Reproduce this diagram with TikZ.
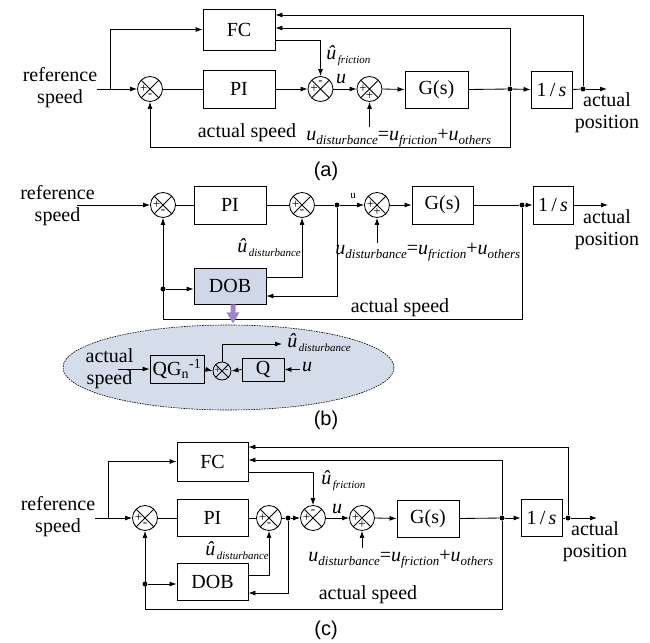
\documentclass[tikz,border=0pt]{standalone}
\usepackage{fontspec}
\setmainfont{Liberation Serif}
\newfontfamily\arialf{Liberation Sans}
\usetikzlibrary{arrows.meta,calc,shapes.geometric}
\definecolor{dobfill}{HTML}{CFD7E8}
\definecolor{ellfill}{HTML}{D5DCEA}
\definecolor{purp}{HTML}{9E86C6}
\newcommand\sbs[2][13]{\raisebox{-0.4ex}{\fontsize{#1}{#1}\selectfont\itshape #2}}
\newcommand\udeq{\textit{u}\sbs{disturbance}=\textit{u}\sbs{friction}+\textit{u}\sbs{others}}
\newcommand\uhat[1]{\textit{û}\kern1.5pt\raisebox{-0.45ex}{\fontsize{11}{11}\selectfont\itshape #1}}
\newcommand\sgL[2]{\node[sgnf] (#1L) at ([xshift=-6.5pt]#1.center) {#2};}
\newcommand\sgR[2]{\node[sgnf] (#1R) at ([xshift=6.5pt]#1.center) {#2};}
\newcommand\sgT[2]{\node[sgnf] (#1T) at ([yshift=6.5pt]#1.center) {#2};}
\newcommand\sgB[2]{\node[sgnf] (#1B) at ([yshift=-6.5pt]#1.center) {#2};}
\begin{document}
\begin{tikzpicture}[x=1pt,y=-1pt,line width=0.85pt,
  >={Latex[length=7pt,width=5pt]},
  txt/.style={font=\fontsize{20}{22}\selectfont,align=center,inner sep=0pt},
  box/.style={draw,font=\fontsize{20}{22}\selectfont,inner sep=0pt},
  sumj/.style={circle,draw,minimum size=25pt,inner sep=0pt,
    path picture={\draw[line width=0.8pt] (path picture bounding box.north west)--(path picture bounding box.south east)
      (path picture bounding box.north east)--(path picture bounding box.south west);}},
  sgnf/.style={font=\fontsize{13}{13}\selectfont,inner sep=0pt},
  dot/.style={circle,fill,inner sep=0pt,minimum size=5pt},
  capt/.style={font=\arialf\fontsize{20}{22}\selectfont,inner sep=0pt}]
\useasboundingbox (0,0) rectangle (650,642);
\fill[white] (0,0) rectangle (650,642);

% ================= (a) =================
\node[txt] (refA) at (60,88) {reference\\speed};
\coordinate (aIn) at (97,89);
\coordinate (aBr) at (110,89);
\node[sumj] (sA1) at (150,89) {};
\node[box,minimum width=72pt,minimum height=38pt] (PIa) at (239,89) {PI};
\node[box,minimum width=72pt,minimum height=41pt] (FCa) at (239,29.5) {FC};
\node[sumj] (sA2) at (320.5,89) {};
\node[sumj] (sA3) at (369.5,89) {};
\node[box,minimum width=63pt,minimum height=37pt] (Ga) at (436.5,89.5) {G(s)};
\node[dot] (dA1) at (510,89) {};
\node[box,minimum width=41pt,minimum height=37pt] (Sa) at (551.5,89.5) {1\,/\,\textit{s}};
\node[dot] (dA2) at (583,89) {};
\coordinate (aOut) at (607,89);
\node[txt] (posA) at (607,113) {actual\\position};
\sgL{sA1}{+}\sgB{sA1}{-}
\sgT{sA2}{-}\sgL{sA2}{+}
\sgL{sA3}{+}\sgB{sA3}{+}
\coordinate (aT1) at (583,15);
\coordinate (aT2) at (510,28);
\coordinate (aB) at (510,147);
\coordinate (aF) at (320.5,40);
\coordinate (aD) at (369.5,127);
\draw[->] (aIn) -- (sA1.west);
\draw[->] (aBr) |- (FCa.west);
\draw (sA1.east) -- (PIa.west);
\draw[->] (PIa.east) -- (sA2.west);
\draw[->] (sA2.east) -- (sA3.west);
\draw[->] (sA3.east) -- (Ga.west);
\draw (Ga.east) -- (dA1);
\draw[->] (dA1) -- (Sa.west);
\draw (Sa.east) -- (dA2);
\draw[->] (dA2) -- (aOut);
\draw[->] (dA2) -- (aT1) -- (FCa.east |- aT1);
\draw[->] (dA1) -- (aT2) -- (FCa.east |- aT2);
\draw[->] (dA1) -- (aB) -| (sA1.south);
\draw[->] (FCa.east |- aF) -- (aF) -- (sA2.north);
\draw[->] (aD) -- (sA3.south);
\node[txt,anchor=west] (ufA) at (326,56) {\uhat{friction}};
\node[txt] (uA) at (341,79) {\textit{u}};
\node[txt,anchor=west] (eqA) at (306,138) {\udeq};
\node[txt] (asA) at (247,133) {actual speed};
\node[capt] (capA) at (326,171) {(a)};

% ================= (b) =================
\node[txt] (refB) at (57.5,206) {reference\\speed};
\coordinate (bIn) at (77,205);
\node[sumj] (sB1) at (163,205) {};
\node[box,minimum width=72pt,minimum height=38pt] (PIb) at (230,205) {PI};
\node[sumj] (sB2) at (302,205) {};
\node[dot] (dB1) at (337,205) {};
\node[sumj] (sB3) at (377,205) {};
\node[box,minimum width=61pt,minimum height=38pt] (Gb) at (442.5,205) {G(s)};
\node[dot] (dB2) at (522,205) {};
\node[box,minimum width=40pt,minimum height=38pt] (Sb) at (553,205) {1\,/\,\textit{s}};
\coordinate (bOut) at (608,205);
\node[txt] (posB) at (607,230) {actual\\position};
\node[box,fill=dobfill,minimum width=72pt,minimum height=36pt] (DOBb) at (230,286) {DOB};
\sgL{sB1}{+}\sgB{sB1}{-}
\sgL{sB2}{+}\sgB{sB2}{-}
\sgL{sB3}{+}\sgB{sB3}{+}
\coordinate (bDo) at (302,277);
\coordinate (bDi) at (337,296);
\coordinate (bR) at (522,319);
\node[dot] (dB3) at (163,289) {};
\coordinate (bD) at (377,243);
\draw[->] (bIn) -- (sB1.west);
\draw (sB1.east) -- (PIb.west);
\draw (PIb.east) -- (sB2.west);
\draw (sB2.east) -- (dB1);
\draw[->] (dB1) -- (sB3.west);
\draw[->] (sB3.east) -- (Gb.west);
\draw (Gb.east) -- (dB2);
\draw[->] (dB2) -- (Sb.west);
\draw[->] (Sb.east) -- (bOut);
\draw[->] (DOBb.east |- bDo) -- (bDo) -- (sB2.south);
\draw[->] (dB1) -- (bDi) -- (DOBb.east |- bDi);
\draw[->] (dB2) -- (bR) -| (sB1.south);
\draw[->] (dB3) -- (DOBb.west |- dB3);
\draw[->] (bD) -- (sB3.south);
\node[txt] (uB) at (353,196) {\fontsize{11}{11}\selectfont u};
\node[txt,anchor=west] (eqB) at (335,252) {\udeq};
\node[txt,anchor=west] (udB) at (237,248) {\uhat{disturbance}};
\node[txt] (asB) at (400,308) {actual speed};
% purple arrow
\fill[purp] ([xshift=3pt]DOBb.south) ++(-2.5,0) -- ++(5,0) -- ++(0,8) -- ++(4,0) -- ++(-6.5,11) -- ++(-6.5,-11) -- ++(4,0) -- cycle;
% ellipse
\node[ellipse,draw,fill=ellfill,line width=0.6pt,dash pattern=on 1.6pt off 1pt,minimum width=331pt,minimum height=85pt,inner sep=0pt] (ell) at (228.5,367.5) {};
\node[txt] (asE) at (109.5,368.5) {actual\\speed};
\coordinate (eIn) at (118,369);
\node[box,minimum width=54pt,minimum height=28pt] (QGn) at (177,369) {QG\textsubscript{n}\textsuperscript{-1}};
\node[sumj,minimum size=18pt] (sE) at (222,371) {};
\node[font=\fontsize{10}{10}\selectfont,inner sep=0pt] (sEL) at ([xshift=-4.5pt]sE.center) {+};
\node[font=\fontsize{10}{10}\selectfont,inner sep=0pt] (sER) at ([xshift=4.5pt]sE.center) {-};
\node[box,minimum width=42pt,minimum height=23pt] (Qb) at (263,369.5) {Q};
\node[txt] (uE) at (307,367) {\textit{u}};
\coordinate (eUin) at (300,369.5);
\coordinate (eTop) at (222,344);
\coordinate (eOut) at (282,344);
\draw[->] (eIn) -- (QGn.west);
\draw[->] (QGn.east) -- (sE.west);
\draw[->] (Qb.west) -- (sE.east);
\draw[->] (eUin) -- (Qb.east);
\draw[->] (sE.north) -- (eTop) -- (eOut);
\node[txt,anchor=west] (udE) at (287,343) {\uhat{disturbance}};
\node[capt] (capB) at (326,420) {(b)};

% ================= (c) =================
\node[txt] (refC) at (58,517) {reference\\speed};
\coordinate (cIn) at (95,518);
\coordinate (cBr) at (108,518);
\node[sumj] (sC1) at (145,518) {};
\node[box,minimum width=71pt,minimum height=39pt] (FCc) at (212.5,461.5) {FC};
\node[box,minimum width=71pt,minimum height=37pt] (PIc) at (212.5,518) {PI};
\node[sumj] (sC2) at (269,518) {};
\node[dot] (dC1) at (288,518) {};
\node[sumj] (sC3) at (313,518) {};
\node[sumj] (sC4) at (362,518) {};
\node[box,minimum width=62pt,minimum height=37pt] (Gc) at (428,518.5) {G(s)};
\node[dot] (dC2) at (502,518) {};
\node[box,minimum width=41pt,minimum height=37pt] (Sc) at (541.5,518) {1\,/\,\textit{s}};
\node[dot] (dC3) at (568,518) {};
\coordinate (cOut) at (597,518);
\node[txt] (posC) at (595,542) {actual\\position};
\node[box,minimum width=71pt,minimum height=37pt] (DOBc) at (212.5,581.5) {DOB};
\sgL{sC1}{+}\sgB{sC1}{-}
\sgL{sC2}{+}\sgB{sC2}{-}
\sgT{sC3}{-}\sgL{sC3}{+}
\sgL{sC4}{+}\sgB{sC4}{+}
\coordinate (cT1) at (568,447);
\coordinate (cT2) at (502,460);
\coordinate (cB) at (502,609);
\coordinate (cF) at (313,472);
\coordinate (cDo) at (269,575);
\coordinate (cDi) at (288,593);
\node[dot] (dC4) at (145,584) {};
\coordinate (cD) at (362,548);
\draw[->] (cIn) -- (sC1.west);
\draw[->] (cBr) |- (FCc.west);
\draw (sC1.east) -- (PIc.west);
\draw (PIc.east) -- (sC2.west);
\draw (sC2.east) -- (dC1);
\draw[->] (dC1) -- (sC3.west);
\draw[->] (sC3.east) -- (sC4.west);
\draw[->] (sC4.east) -- (Gc.west);
\draw (Gc.east) -- (dC2);
\draw[->] (dC2) -- (Sc.west);
\draw (Sc.east) -- (dC3);
\draw[->] (dC3) -- (cOut);
\draw[->] (dC3) -- (cT1) -- (FCc.east |- cT1);
\draw[->] (dC2) -- (cT2) -- (FCc.east |- cT2);
\draw[->] (dC2) -- (cB) -| (sC1.south);
\draw[->] (FCc.east |- cF) -- (cF) -- (sC3.north);
\draw[->] (DOBc.east |- cDo) -- (cDo) -- (sC2.south);
\draw[->] (dC1) -- (cDi) -- (DOBc.east |- cDi);
\draw[->] (dC4) -- (DOBc.west |- dC4);
\draw[->] (cD) -- (sC4.south);
\node[txt,anchor=west] (ufC) at (321,481) {\uhat{friction}};
\node[txt] (uC) at (337,509) {\textit{u}};
\node[txt,anchor=west] (eqC) at (308,559) {\udeq};
\node[txt,anchor=west] (udC) at (205,551) {\uhat{disturbance}};
\node[txt] (asC) at (368,595) {actual speed};
\node[capt] (capC) at (326,630) {(c)};
\end{tikzpicture}
\end{document}
